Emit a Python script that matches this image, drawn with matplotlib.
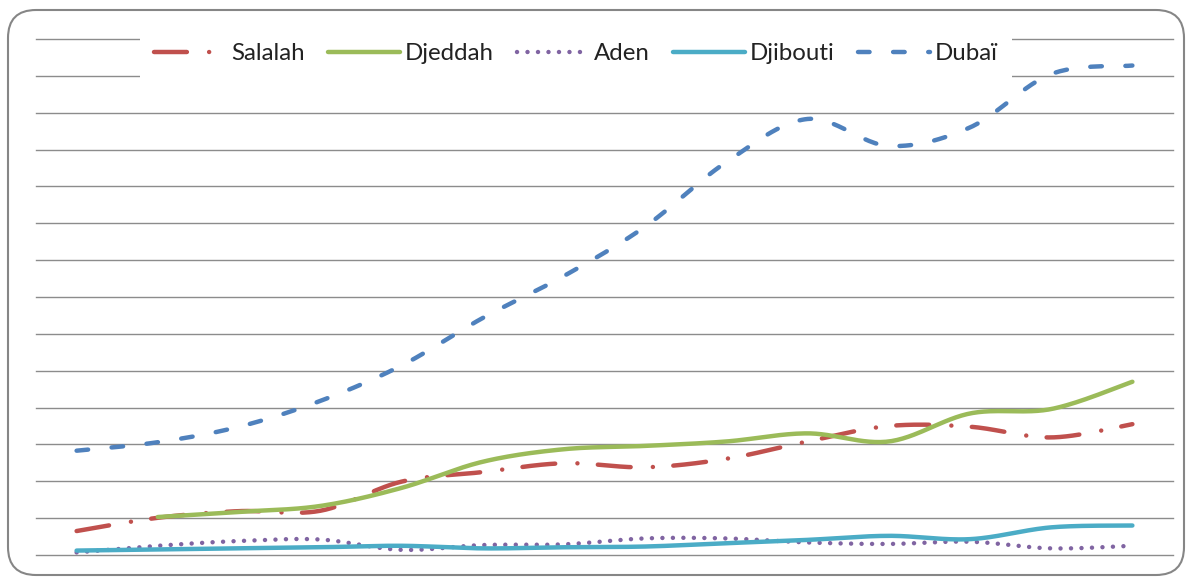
#!/usr/bin/env python3
"""Container traffic, Red Sea / Gulf ports - smoothed line chart."""

import matplotlib

matplotlib.use("Agg")
import matplotlib.pyplot as plt
import numpy as np
from matplotlib.patches import FancyBboxPatch
from matplotlib.transforms import IdentityTransform

years = list(range(1999, 2013))
salalah = [0.65, 1.01, 1.19, 1.20, 1.99, 2.25, 2.49, 2.38, 2.61, 3.08, 3.50, 3.48, 3.19, 3.55]
djeddah = [np.nan, 1.03, 1.17, 1.33, 1.82, 2.53, 2.87, 2.96, 3.08, 3.30, 3.08, 3.84, 3.96, 4.70]
aden = [0.07, 0.25, 0.38, 0.42, 0.14, 0.27, 0.29, 0.45, 0.45, 0.34, 0.30, 0.36, 0.18, 0.25]
djibouti = [0.12, 0.15, 0.18, 0.21, 0.25, 0.18, 0.21, 0.23, 0.32, 0.41, 0.52, 0.43, 0.75, 0.80]
dubai = [2.83, 3.06, 3.48, 4.18, 5.14, 6.43, 7.57, 8.91, 10.66, 11.83, 11.10, 11.60, 13.05, 13.28]


def smooth(x, y, n=30):
    # Excel-like smoothed line (Catmull-Rom as cubic Bezier segments)
    x = np.asarray(x, float)
    y = np.asarray(y, float)
    ok = ~np.isnan(y)
    pts = np.column_stack([x[ok], y[ok]])
    out = []
    t = np.linspace(0, 1, n)[:, None]
    for i in range(len(pts) - 1):
        p0 = pts[max(i - 1, 0)]
        p1 = pts[i]
        p2 = pts[i + 1]
        p3 = pts[min(i + 2, len(pts) - 1)]
        c1 = p1 + (p2 - p0) / 6
        c2 = p2 - (p3 - p1) / 6
        seg = (1 - t) ** 3 * p1 + 3 * (1 - t) ** 2 * t * c1 + 3 * (1 - t) * t**2 * c2 + t**3 * p2
        out.append(seg if i == 0 else seg[1:])
    seg = np.vstack(out)
    return seg[:, 0], seg[:, 1]


W, H = 1188, 577
fig = plt.figure(figsize=(W / 100, H / 100), dpi=100)
ax = fig.add_axes([36 / W, (H - 555) / H, (1173 - 36) / W, (555 - 39) / H])

xs = np.arange(len(years))
lw = 3.2
series = [
    ("Salalah", salalah, "#C0504D", (0, (7.4, 5, 0.01, 4.6))),
    ("Djeddah", djeddah, "#9BBB59", "-"),
    ("Aden", aden, "#8064A2", (0, (0.01, 2.35))),
    ("Djibouti", djibouti, "#4BACC6", "-"),
    ("Dubaï", dubai, "#4F81BD", (0, (2.6, 5.3))),
]
for name, vals, color, ls in series:
    sx, sy = smooth(xs, vals)
    ax.plot(sx, sy, color=color, lw=lw, ls=ls, label=name,
            dash_capstyle="round", solid_capstyle="round", zorder=3)

ax.set_xlim(-0.5, len(years) - 0.5)
ax.set_ylim(0, 14)
ax.set_yticks(range(15))
ax.yaxis.grid(True, color="#8c8c8c", lw=1.0)
for gl in ax.get_ygridlines():
    gl.set_clip_on(False)
ax.set_axisbelow(True)
ax.tick_params(left=False, bottom=False, labelleft=False, labelbottom=False)
for sp in ax.spines.values():
    sp.set_visible(False)

leg = fig.legend(
    loc="center",
    bbox_to_anchor=(576 / W, 1 - 54 / H),
    ncol=5,
    frameon=True,
    facecolor="white",
    edgecolor="none",
    framealpha=1,
    fancybox=False,
    prop={"family": ["Lato", "DejaVu Sans"], "size": 17.3},
    handlelength=3.0,
    handletextpad=0.2,
    columnspacing=0.97,
    borderpad=0.6,
)
leg.set_zorder(5)
for t in leg.get_texts():
    t.set_color("#222222")

border = FancyBboxPatch(
    (8, 2), 1176, 565,
    boxstyle="round,pad=0,rounding_size=28",
    transform=IdentityTransform(),
    facecolor="none",
    edgecolor="#868686",
    lw=1.5,
)
fig.add_artist(border)

fig.savefig("out.png", dpi=100)
